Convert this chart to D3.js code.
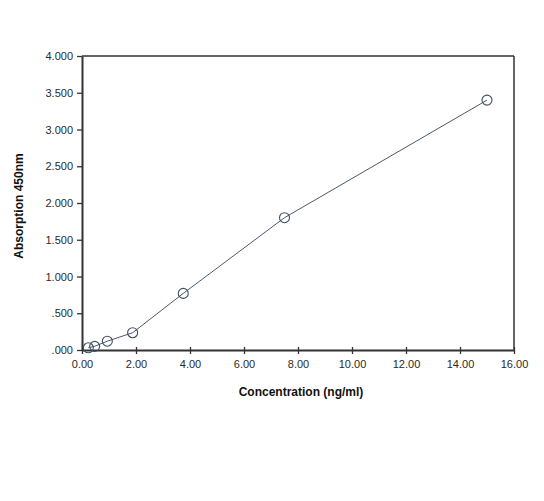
<!DOCTYPE html>
<html><head><meta charset="utf-8">
<script src="https://cdn.jsdelivr.net/npm/d3@7"></script>
<style>body{margin:0;background:#fff}svg{display:block}text{font-family:"Liberation Sans",Arial,sans-serif}</style>
</head><body><svg id="c" width="544" height="501"></svg>
<script>
const concentration = [0.234, 0.469, 0.938, 1.875, 3.75, 7.5, 15];
const absorption = [0.03, 0.05, 0.12, 0.235, 0.77, 1.80, 3.40];
const xTicks = [0, 2, 4, 6, 8, 10, 12, 14, 16];
const yTicks = [0, 0.5, 1, 1.5, 2, 2.5, 3, 3.5, 4];
const xTitle = "Concentration (ng/ml)";
const yTitle = "Absorption 450nm";

const svg = d3.select("#c");
const L = 82, R = 514, T = 56, B = 350;
const x = d3.scaleLinear().domain([0, 16]).range([L, R]);
const y = d3.scaleLinear().domain([0, 4]).range([B, T]);
const axisColor = "#333";

// frame top & right
svg.append("line").attr("x1", L).attr("x2", R).attr("y1", T).attr("y2", T).attr("stroke", axisColor).attr("stroke-width", 1.5);
svg.append("line").attr("x1", R).attr("x2", R).attr("y1", T).attr("y2", B).attr("stroke", axisColor).attr("stroke-width", 1.5);

const yFmt = v => { const s = d3.format(".3f")(v); return s.startsWith("0") ? s.slice(1) : s; };
const yAxis = svg.append("g").attr("transform", `translate(${L},0)`)
  .call(d3.axisLeft(y).tickValues(yTicks).tickFormat(yFmt).tickSizeInner(5).tickSizeOuter(0).tickPadding(4));
const xAxis = svg.append("g").attr("transform", `translate(0,${B})`)
  .call(d3.axisBottom(x).tickValues(xTicks).tickFormat(d3.format(".2f")).tickSizeInner(4).tickSizeOuter(0).tickPadding(6));
[yAxis, xAxis].forEach(g => {
  g.select(".domain").attr("stroke", axisColor).attr("stroke-width", 2);
  g.selectAll(".tick line").attr("stroke", axisColor).attr("stroke-width", 1.3);
  g.selectAll(".tick text").attr("fill", "#2a2a2a").style("font-size", "11px");
});
// small inner tick extension on x axis
xAxis.selectAll(".tick line").attr("y1", -3);

const line = d3.line().x((d, i) => x(concentration[i])).y(d => y(d));
svg.append("path").datum(absorption).attr("d", line).attr("fill", "none").attr("stroke", "#4a5a6a").attr("stroke-width", 1);
svg.selectAll("circle.pt").data(absorption).join("circle").attr("class", "pt")
  .attr("cx", (d, i) => x(concentration[i])).attr("cy", d => y(d)).attr("r", 5)
  .attr("fill", "none").attr("stroke", "#3d4f63").attr("stroke-width", 1.1);

svg.append("text").attr("x", 301).attr("y", 396).attr("text-anchor", "middle")
  .style("font-size", "12px").style("font-weight", "bold").attr("fill", "#111").text(xTitle);
svg.append("text").attr("transform", `translate(23,206) rotate(-90)`).attr("text-anchor", "middle")
  .style("font-size", "12px").style("font-weight", "bold").attr("fill", "#111").text(yTitle);
</script></body></html>
